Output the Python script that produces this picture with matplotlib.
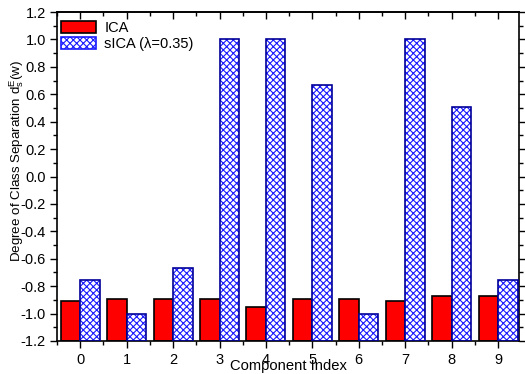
import matplotlib
matplotlib.use("Agg")
import matplotlib.pyplot as plt
import numpy as np
from matplotlib.patches import Patch
from matplotlib.ticker import MultipleLocator

plt.rcParams['font.family'] = ['Liberation Sans', 'DejaVu Sans']
plt.rcParams['hatch.linewidth'] = 0.8

components = [0, 1, 2, 3, 4, 5, 6, 7, 8, 9]
ica = [-0.905, -0.89, -0.89, -0.895, -0.95, -0.895, -0.895, -0.905, -0.875, -0.875]
sica = [-0.755, -1.0, -0.665, 1.0, 1.0, 0.665, -1.0, 1.0, 0.505, -0.755]

x = np.array(components)
w = 0.42
base = -1.2

fig = plt.figure(figsize=(5.25, 3.74), dpi=100)
ax = fig.add_axes([57 / 525, 1 - 341 / 374, 462 / 525, 329 / 374])

ax.bar(x - w / 2, np.array(ica) - base, w, bottom=base, color='#ff0000',
       edgecolor='black', linewidth=1.2, zorder=2)
# hatch layer, then dark blue outline on top
ax.bar(x + w / 2, np.array(sica) - base, w, bottom=base, color='white',
       edgecolor='#1a1aff', hatch='xxxxx', linewidth=0, zorder=2)
ax.bar(x + w / 2, np.array(sica) - base, w, bottom=base, fill=False,
       edgecolor='#00009a', linewidth=1.2, zorder=3)

ax.set_xlim(-0.5, 9.45)
ax.set_ylim(-1.2, 1.2)
ax.set_xticks(components)
ax.xaxis.set_minor_locator(MultipleLocator(0.5))
ax.yaxis.set_major_locator(MultipleLocator(0.2))
ax.yaxis.set_minor_locator(MultipleLocator(0.1))
ax.set_yticklabels([f'{v:.1f}' for v in ax.get_yticks()])
ax.tick_params(axis='both', which='both', labelsize=10.5, width=1, right=True, top=False)
ax.tick_params(axis='both', which='major', length=5, pad=3)
ax.tick_params(axis='both', which='minor', length=3)
ax.tick_params(axis='x', which='major', pad=4)
for s in ax.spines.values():
    s.set_linewidth(1.2)

top = ax.secondary_xaxis('top')
top.set_xticks(components)
top.set_xticklabels([])
top.xaxis.set_minor_locator(MultipleLocator(0.5))
top.tick_params(which='both', direction='in', width=1)
top.tick_params(which='major', length=5)
top.tick_params(which='minor', length=3)
top.spines['top'].set_linewidth(1.2)

ax.set_xlabel('Component Index', fontsize=10.6)
ax.xaxis.set_label_coords(0.5, -0.054)
ax.set_ylabel('Degree of Class Separation d$_\\mathregular{s}^\\mathregular{E}$(w)', fontsize=9.6)
ax.yaxis.set_label_coords(-0.067, 0.547)

handles = [
    Patch(facecolor='#ff0000', edgecolor='black', linewidth=1.2, label='ICA'),
    Patch(facecolor='white', edgecolor='#1a1aff', hatch='xxxxx', linewidth=1.2, label='sICA (λ=0.35)'),
]
ax.legend(handles=handles, loc='upper left', bbox_to_anchor=(0.0, 0.986), frameon=False,
          fontsize=10.5, handlelength=2.4, handleheight=0.82, borderaxespad=0.0,
          borderpad=0.3, labelspacing=0.15, handletextpad=0.55)

fig.savefig('out.png', dpi=100)
